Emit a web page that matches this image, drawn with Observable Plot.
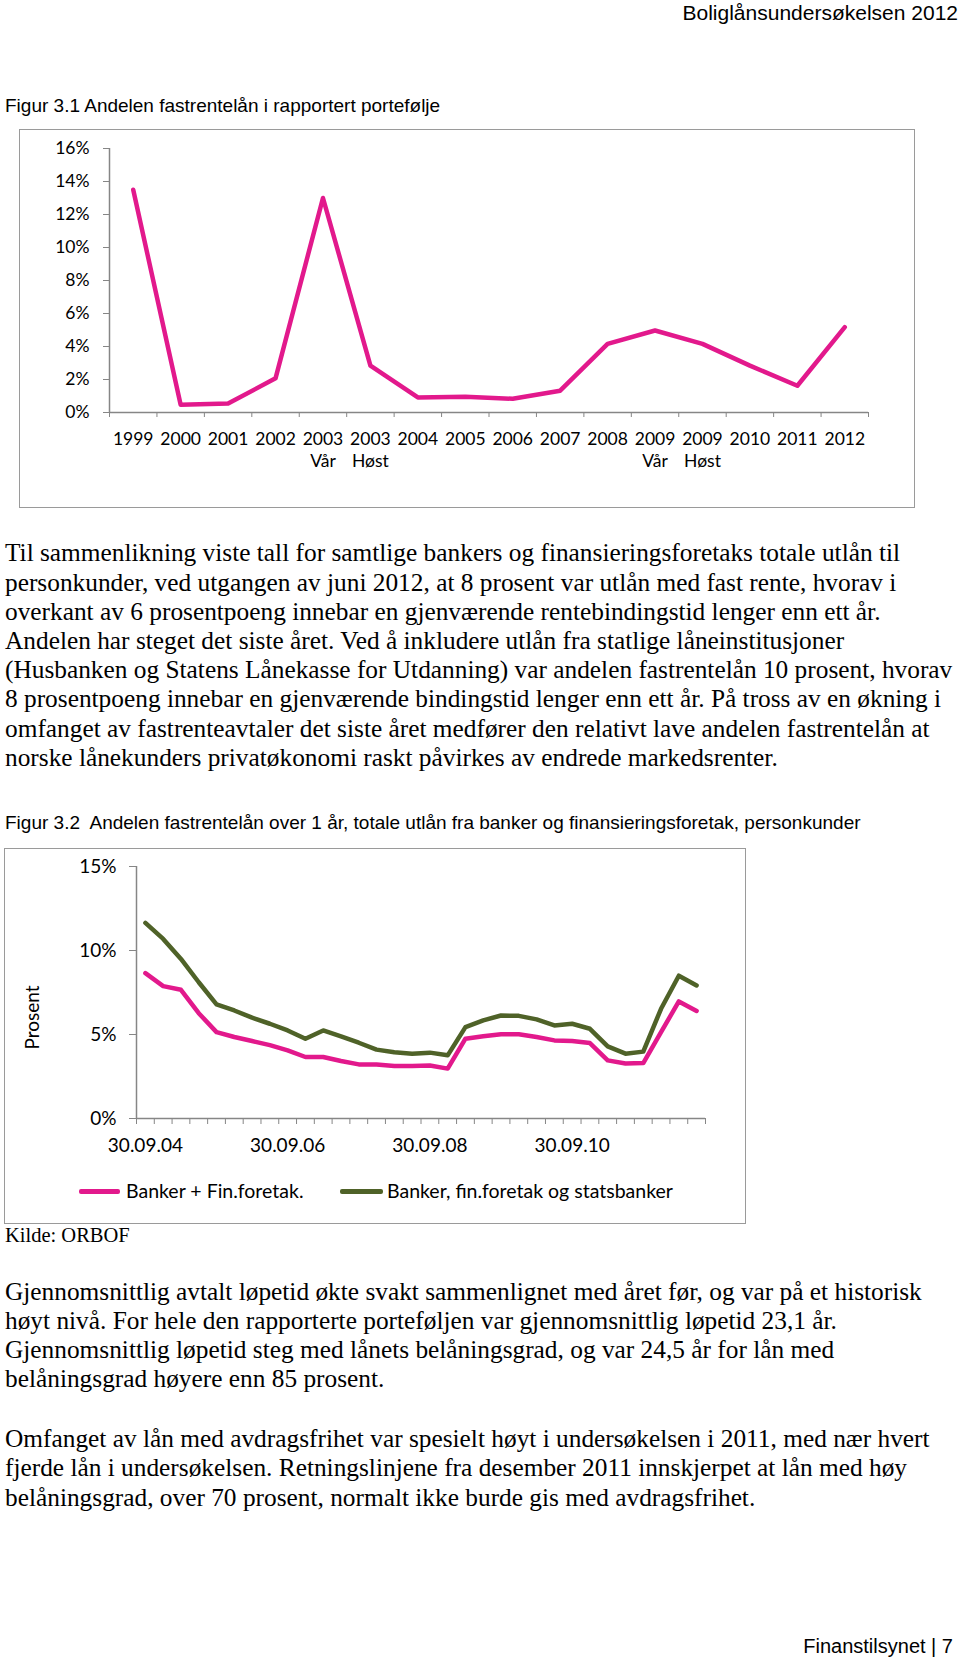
<!DOCTYPE html>
<html>
<head>
<meta charset="utf-8">
<script src="https://cdn.jsdelivr.net/npm/d3@7"></script>
<script src="https://cdn.jsdelivr.net/npm/@observablehq/plot@0.6"></script>
<style>
  html, body { margin: 0; padding: 0; background: #fff; }
  body { position: relative; width: 960px; height: 1657px; overflow: hidden; color: #000; }
  .abs { position: absolute; white-space: nowrap; }
  .arial { font-family: "Liberation Sans", Arial, sans-serif; font-size: 21px; line-height: 24px; }
  .title { font-size: 19px; }
  .times { font-family: "Liberation Serif", "Times New Roman", serif; font-size: 25.35px; line-height: 29.2px; }
  .frame { position: absolute; border: 1.5px solid #9a9a9a; box-sizing: border-box; }
  .chart { position: absolute; }
  .legend { position: absolute; font-family: Lato, "Open Sans", sans-serif; font-size: 19.5px; line-height: 22px; white-space: nowrap; }
  .sw { position: absolute; height: 5px; border-radius: 2px; }
</style>
</head>
<body>
<div class="abs arial" style="right:2px; top:1px;">Boliglånsundersøkelsen 2012</div>
<div class="abs arial title" style="left:5px; top:94px;">Figur 3.1 Andelen fastrentelån i rapportert portefølje</div>

<div class="frame" style="left:19px; top:129px; width:896px; height:379px;"></div>
<div id="chart1" class="chart" style="left:20px; top:130px;"></div>

<div class="abs times" style="left:5px; top:538.3px;">Til sammenlikning viste tall for samtlige bankers og finansieringsforetaks totale utlån til<br>personkunder, ved utgangen av juni 2012, at 8 prosent var utlån med fast rente, hvorav i<br>overkant av 6 prosentpoeng innebar en gjenværende rentebindingstid lenger enn ett år.<br>Andelen har steget det siste året. Ved å inkludere utlån fra statlige låneinstitusjoner<br>(Husbanken og Statens Lånekasse for Utdanning) var andelen fastrentelån 10 prosent, hvorav<br>8 prosentpoeng innebar en gjenværende bindingstid lenger enn ett år. På tross av en økning i<br>omfanget av fastrenteavtaler det siste året medfører den relativt lave andelen fastrentelån at<br>norske lånekunders privatøkonomi raskt påvirkes av endrede markedsrenter.</div>

<div class="abs arial title" style="left:5px; top:811px;">Figur 3.2&nbsp; Andelen fastrentelån over 1 år, totale utlån fra banker og finansieringsforetak, personkunder</div>

<div class="frame" style="left:4px; top:848px; width:742px; height:376px;"></div>
<div id="chart2" class="chart" style="left:4px; top:848px;"></div>
<div id="legend2"></div>

<div class="abs times" style="left:5px; top:1221px; font-size:20.5px;">Kilde: ORBOF</div>

<div class="abs times" style="left:5px; top:1276.8px;">Gjennomsnittlig avtalt løpetid økte svakt sammenlignet med året før, og var på et historisk<br>høyt nivå. For hele den rapporterte porteføljen var gjennomsnittlig løpetid 23,1 år.<br>Gjennomsnittlig løpetid steg med lånets belåningsgrad, og var 24,5 år for lån med<br>belåningsgrad høyere enn 85 prosent.</div>

<div class="abs times" style="left:5px; top:1424.2px;">Omfanget av lån med avdragsfrihet var spesielt høyt i undersøkelsen i 2011, med nær hvert<br>fjerde lån i undersøkelsen. Retningslinjene fra desember 2011 innskjerpet at lån med høy<br>belåningsgrad, over 70 prosent, normalt ikke burde gis med avdragsfrihet.</div>

<div class="abs arial" style="right:7px; top:1634px; font-size:20px;">Finanstilsynet | 7</div>

<script>
// ---------- Figur 3.1 data ----------
const periods1 = ["1999", "2000", "2001", "2002", "2003 Vår", "2003 Høst", "2004", "2005", "2006", "2007", "2008", "2009 Vår", "2009 Høst", "2010", "2011", "2012"];
const share1 = [13.5, 0.47, 0.55, 2.07, 13.0, 2.84, 0.91, 0.95, 0.83, 1.32, 4.16, 4.97, 4.16, 2.84, 1.62, 5.17];
const yTicks1 = [0, 2, 4, 6, 8, 10, 12, 14, 16];

// ---------- Figur 3.2 data ----------
const quarters = [
  "30.09.04", "31.12.04",
  "31.03.05", "30.06.05", "30.09.05", "31.12.05",
  "31.03.06", "30.06.06", "30.09.06", "31.12.06",
  "31.03.07", "30.06.07", "30.09.07", "31.12.07",
  "31.03.08", "30.06.08", "30.09.08", "31.12.08",
  "31.03.09", "30.06.09", "30.09.09", "31.12.09",
  "31.03.10", "30.06.10", "30.09.10", "31.12.10",
  "31.03.11", "30.06.11", "30.09.11", "31.12.11",
  "31.03.12", "30.06.12"
];
const bankerFin = [8.65, 7.88, 7.66, 6.27, 5.14, 4.85, 4.61, 4.37, 4.06, 3.66, 3.66, 3.42, 3.22, 3.22, 3.12, 3.12,
                   3.15, 2.97, 4.75, 4.89, 5.01, 5.01, 4.85, 4.65, 4.61, 4.49, 3.46, 3.27, 3.30, 5.14, 6.97, 6.40];
const medStatsbanker = [11.64, 10.69, 9.50, 8.11, 6.79, 6.43, 6.00, 5.64, 5.24, 4.75, 5.24, 4.89, 4.51, 4.10, 3.94, 3.86,
                        3.92, 3.76, 5.44, 5.84, 6.13, 6.11, 5.90, 5.54, 5.64, 5.34, 4.29, 3.86, 3.98, 6.53, 8.50, 7.92];
const seriesNames = ["Banker + Fin.foretak.", "Banker, fin.foretak og statsbanker"];
const xTickLabels2 = ["30.09.04", "30.09.06", "30.09.08", "30.09.10"];
const yTicks2 = [0, 5, 10, 15];

const PINK = "#E2198C";
const GREEN = "#4F6228";
const AXIS = "#868686";
const pct = d => d + "%";

// ---------- Chart 1 ----------
const c1 = Plot.plot({
  width: 894, height: 377,
  marginLeft: 89, marginRight: 46, marginTop: 18, marginBottom: 95,
  style: { fontFamily: "Lato, 'Open Sans', sans-serif", fontSize: "17.5px", color: "#000", background: "transparent", overflow: "visible" },
  x: { type: "linear", domain: [0, periods1.length] },
  y: { domain: [0, 16] },
  marks: [
    Plot.axisY(yTicks1, { tickSize: 6, tickPadding: 14, tickFormat: pct, stroke: AXIS, fontSize: 17.5, label: null }),
    Plot.axisX(d3.range(periods1.length + 1), { tickSize: 5, tickFormat: () => "", stroke: AXIS, label: null }),
    Plot.axisX(periods1.map((_, i) => i + 0.5), {
      tickSize: 0, tickPadding: 16, fontSize: 17.5, lineHeight: 1.3, label: null,
      tickFormat: v => periods1[Math.floor(v)].replace(" ", "\n")
    }),
    Plot.ruleY([0], { stroke: AXIS, strokeWidth: 1.5 }),
    Plot.ruleX([0], { stroke: AXIS, strokeWidth: 1.5 }),
    Plot.line(share1, { x: (d, i) => i + 0.5, y: d => d, stroke: PINK, strokeWidth: 4.5, strokeLinejoin: "round", strokeLinecap: "round" })
  ]
});
document.getElementById("chart1").append(c1);

// ---------- Chart 2 ----------
const c2 = Plot.plot({
  width: 741, height: 317,
  marginLeft: 132, marginRight: 40, marginTop: 18, marginBottom: 47,
  style: { fontFamily: "Lato, 'Open Sans', sans-serif", fontSize: "19px", color: "#000", background: "transparent", overflow: "visible" },
  x: { type: "linear", domain: [0, quarters.length] },
  y: { domain: [0, 15] },
  marks: [
    Plot.axisY(yTicks2, { tickSize: 7, tickPadding: 13, tickFormat: pct, stroke: AXIS, fontSize: 19, label: null }),
    Plot.axisX(d3.range(quarters.length + 1), { tickSize: 6, tickFormat: () => "", stroke: AXIS, label: null }),
    Plot.axisX(xTickLabels2.map(l => quarters.indexOf(l) + 0.5), {
      tickSize: 0, tickPadding: 20, fontSize: 19, label: null,
      tickFormat: v => quarters[Math.floor(v)]
    }),
    Plot.ruleY([0], { stroke: AXIS, strokeWidth: 1.5 }),
    Plot.ruleX([0], { stroke: AXIS, strokeWidth: 1.5 }),
    Plot.text(["Prosent"], { frameAnchor: "left", rotate: -90, dx: -104, dy: 25, textAnchor: "middle", fontSize: 19 }),
    Plot.line(medStatsbanker, { x: (d, i) => i + 0.5, y: d => d, stroke: GREEN, strokeWidth: 4.5, strokeLinejoin: "round", strokeLinecap: "round" }),
    Plot.line(bankerFin, { x: (d, i) => i + 0.5, y: d => d, stroke: PINK, strokeWidth: 4.5, strokeLinejoin: "round", strokeLinecap: "round" })
  ]
});
document.getElementById("chart2").append(c2);

// ---------- Legend (below chart 2 SVG, inside frame) ----------
const leg = document.getElementById("legend2");
const legItems = [
  { name: seriesNames[0], color: PINK, sx: 79, sw: 41, tx: 126 },
  { name: seriesNames[1], color: GREEN, sx: 340, sw: 43, tx: 387 }
];
legItems.forEach(it => {
  const s = document.createElement("div");
  s.className = "sw";
  s.style.cssText = `left:${it.sx}px; top:1189px; width:${it.sw}px; background:${it.color};`;
  leg.append(s);
  const t = document.createElement("div");
  t.className = "legend";
  t.style.cssText = `left:${it.tx}px; top:1180px;`;
  t.textContent = it.name;
  leg.append(t);
});
</script>
</body>
</html>
